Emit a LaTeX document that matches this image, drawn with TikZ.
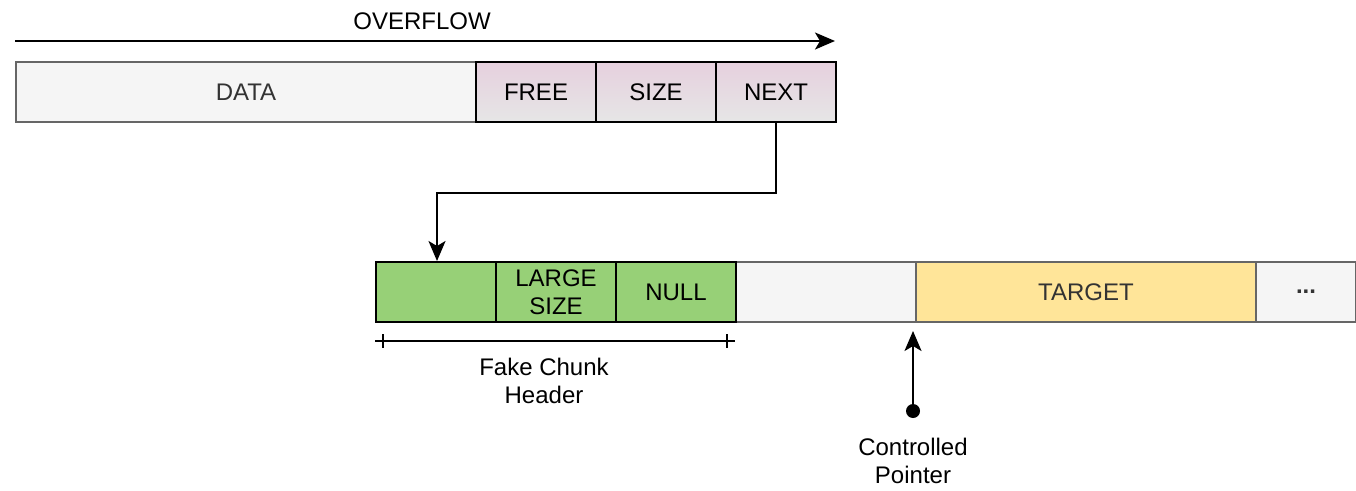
\documentclass[tikz,border=0pt]{standalone}
\usepackage{fontspec}
\setmainfont{Liberation Sans}
\usetikzlibrary{arrows.meta}
\definecolor{grayfill}{HTML}{F5F5F5}
\definecolor{grayline}{HTML}{666666}
\definecolor{graytext}{HTML}{333333}
\definecolor{pinktop}{HTML}{E6D0DE}
\definecolor{pinkbot}{HTML}{E6E6E6}
\definecolor{greenfill}{HTML}{97D077}
\definecolor{yellowfill}{HTML}{FFE599}
\tikzset{
  cell/.style={draw, line width=2pt, minimum height=60pt, inner sep=0pt, anchor=north west, align=center, font=\fontsize{24}{28}\selectfont},
  graycell/.style={cell, fill=grayfill, draw=grayline, text=graytext},
  pinkcell/.style={cell, draw=black, top color=pinktop, bottom color=pinkbot},
  greencell/.style={cell, draw=black, fill=greenfill},
  yellowcell/.style={cell, fill=yellowfill, draw=grayline, text=graytext},
  conn/.style={line width=2pt, -{Stealth[length=20pt,width=17pt,inset=5pt]}},
  lbl/.style={font=\fontsize{24}{28}\selectfont, align=center, inner sep=0pt}
}
\begin{document}
\begin{tikzpicture}[x=1pt,y=-1pt]
\useasboundingbox (0,0) rectangle (1356,490);
% top row
\node[graycell, minimum width=460pt] (data) at (15,61) {DATA};
\node[pinkcell, minimum width=120pt] (free) at (475,61) {FREE};
\node[pinkcell, minimum width=120pt] (size) at (595,61) {SIZE};
\node[pinkcell, minimum width=120pt] (next) at (715,61) {NEXT};
% overflow arrow
\coordinate (ovs) at (15,41);
\coordinate (ove) at (835,41);
\draw[conn] (ovs) -- (ove);
\node[lbl] (ovl) at (422,21) {OVERFLOW};
% bottom row (gray cells first so green borders lie on top)
\node[graycell, minimum width=180pt] (gap) at (735,261) {};
\node[yellowcell, minimum width=340pt] (target) at (915,261) {TARGET};
\node[graycell, minimum width=100pt, font=\fontsize{24}{28}\selectfont\bfseries] (dots) at (1255,261) {...};
\node[greencell, minimum width=120pt] (fake) at (375,261) {};
\node[greencell, minimum width=120pt] (large) at (495,261) {LARGE\\SIZE};
\node[greencell, minimum width=120pt] (null) at (615,261) {NULL};
% connector NEXT -> fake chunk
\draw[conn] (next.south) -- ++(0,70) -| ([xshift=-60pt]fake.north east |- fake.north);
% dimension line
\coordinate (d1) at (375,341);
\coordinate (d2) at (735,341);
\draw[line width=2pt] (d1) -- (d2);
\draw[line width=2pt] (383,334) -- (383,348);
\draw[line width=2pt] (727,334) -- (727,348);
\node[lbl] (fch) at (544,381) {Fake Chunk\\Header};
% controlled pointer
\coordinate (cpdot) at (913,411);
\coordinate (cptip) at (913,331);
\fill (cpdot) circle (7pt);
\draw[conn] (cpdot) -- (cptip);
\node[lbl] (cpl) at (913,461) {Controlled\\Pointer};
\end{tikzpicture}
\end{document}
